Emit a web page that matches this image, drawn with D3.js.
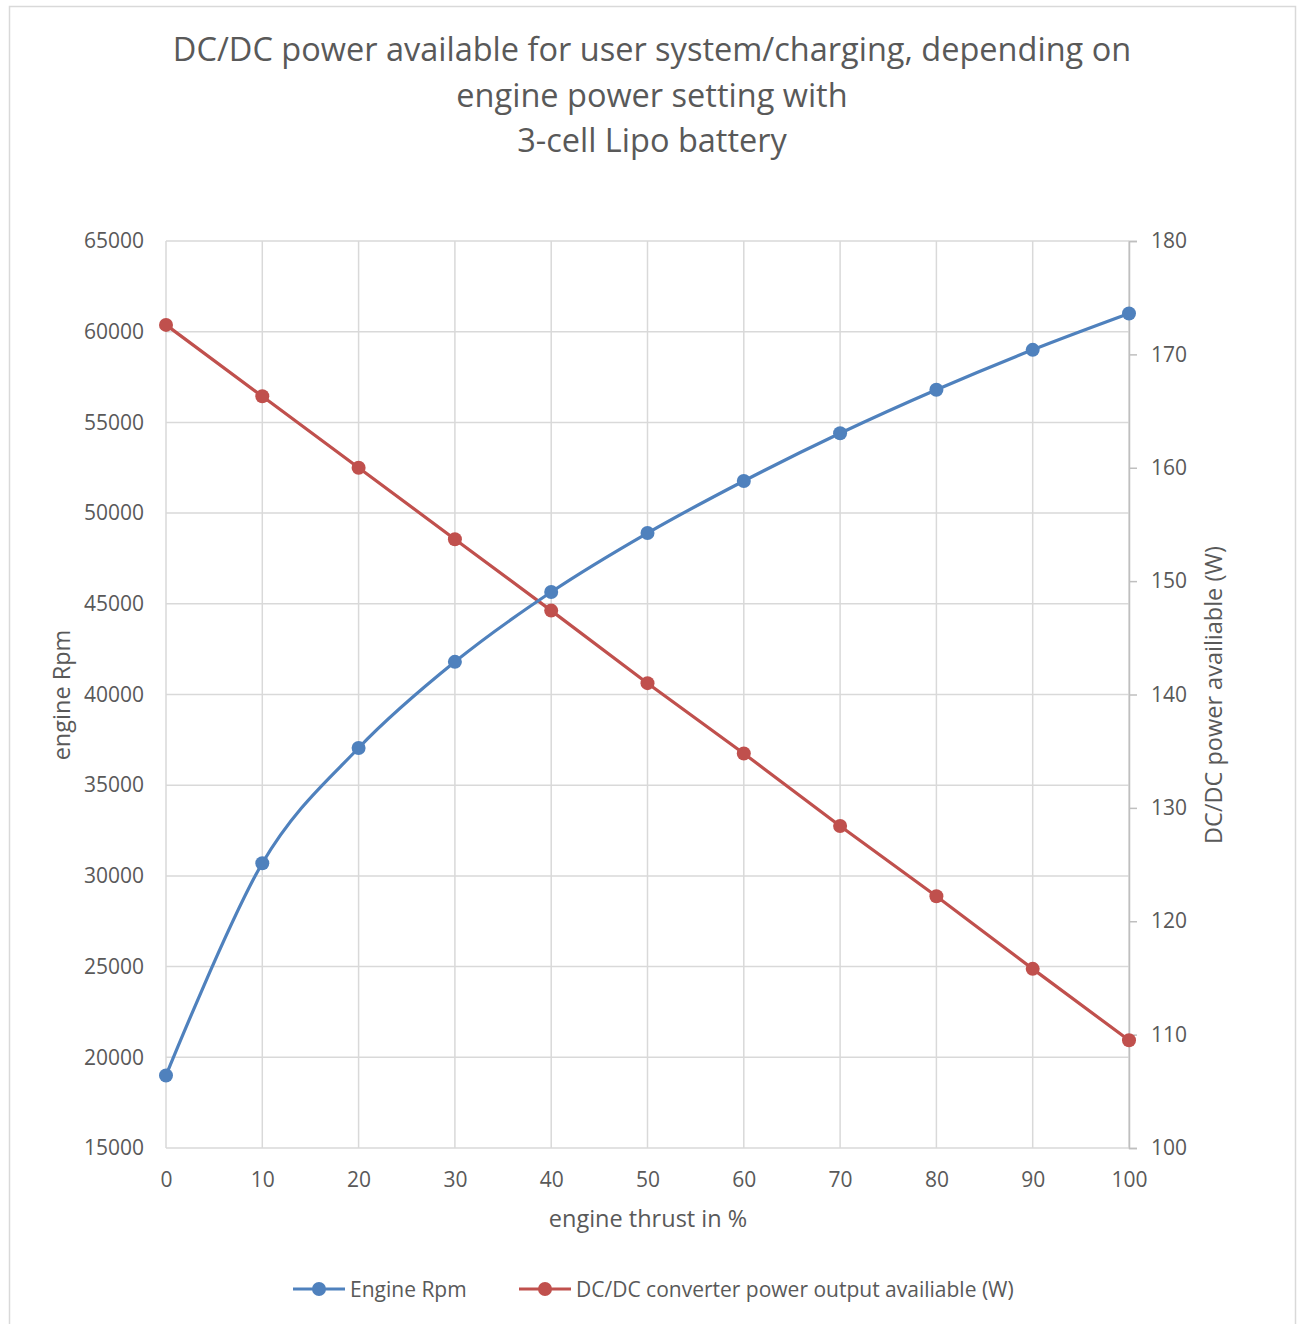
<!DOCTYPE html>
<html>
<head>
<meta charset="utf-8">
<script src="https://cdn.jsdelivr.net/npm/d3@7"></script>
<style>
  html, body { margin: 0; padding: 0; background: #fff; }
  svg { display: block; }
  text { font-family: "Open Sans", "Noto Sans", sans-serif; fill: #595959; }
</style>
</head>
<body>
<svg id="chart" width="1300" height="1324"></svg>
<script>
// Engine thrust setting (%)
const thrust = [0, 10, 20, 30, 40, 50, 60, 70, 80, 90, 100];
// Engine speed (rpm) at each thrust setting
const engineRpm = [19000, 30700, 37050, 41800, 45650, 48900, 51770, 54400, 56800, 59000, 61000];
// DC/DC converter output power available (W)
const dcdcPower = [172.6, 166.3, 160.0, 153.7, 147.4, 141.0, 134.8, 128.4, 122.2, 115.8, 109.5];

const xTicks = [0, 10, 20, 30, 40, 50, 60, 70, 80, 90, 100];
const rpmTicks = [15000, 20000, 25000, 30000, 35000, 40000, 45000, 50000, 55000, 60000, 65000];
const powerTicks = [100, 110, 120, 130, 140, 150, 160, 170, 180];

const titleLines = [
  "DC/DC power available for user system/charging, depending on",
  "engine power setting with",
  "3-cell Lipo battery"
];
const seriesNames = ["Engine Rpm", "DC/DC converter power output availiable (W)"];

const blue = "#4f81bd", red = "#c0504d", grid = "#d9d9d9", axisCol = "#bfbfbf";

const svg = d3.select("#chart");
const plot = { left: 166, right: 1129, top: 241, bottom: 1148 };

// outer chart frame
svg.append("rect")
  .attr("x", 9.5).attr("y", 6.5).attr("width", 1286).attr("height", 1330)
  .attr("fill", "#fff").attr("stroke", grid).attr("stroke-width", 1.5);

const x = d3.scaleLinear().domain([0, 100]).range([plot.left, plot.right]);
const yL = d3.scaleLinear().domain([15000, 65000]).range([plot.bottom, plot.top]);
const yR = d3.scaleLinear().domain([100, 180]).range([plot.bottom, plot.top]);

// gridlines
const g = svg.append("g");
g.selectAll(".hg").data(rpmTicks).join("line")
  .attr("x1", plot.left).attr("x2", plot.right)
  .attr("y1", d => yL(d)).attr("y2", d => yL(d))
  .attr("stroke", grid).attr("stroke-width", 1.5);
g.selectAll(".vg").data(xTicks).join("line")
  .attr("x1", d => x(d)).attr("x2", d => x(d))
  .attr("y1", plot.top).attr("y2", plot.bottom)
  .attr("stroke", grid).attr("stroke-width", 1.5);

const tickFont = 21;

// secondary axis with outward ticks
const rightAxis = d3.axisRight(yR).tickValues(powerTicks).tickSize(8).tickPadding(14);
const ra = svg.append("g").attr("transform", `translate(${plot.right},0)`).call(rightAxis);
ra.select(".domain").attr("stroke", axisCol).attr("stroke-width", 1.5);
ra.selectAll(".tick line").attr("stroke", axisCol).attr("stroke-width", 1.5);
ra.selectAll(".tick text").attr("font-size", tickFont).attr("fill", "#595959")
  .style("font-family", "'Open Sans', sans-serif");

// primary axis (labels only)
const leftAxis = d3.axisLeft(yL).tickValues(rpmTicks).tickSize(0).tickPadding(22).tickFormat(d3.format("d"));
const la = svg.append("g").attr("transform", `translate(${plot.left},0)`).call(leftAxis);
la.select(".domain").remove();
la.selectAll(".tick text").attr("font-size", tickFont).attr("fill", "#595959")
  .style("font-family", "'Open Sans', sans-serif");

// x axis (labels only)
const bottomAxis = d3.axisBottom(x).tickValues(xTicks).tickSize(0).tickPadding(24);
const ba = svg.append("g").attr("transform", `translate(0,${plot.bottom})`).call(bottomAxis);
ba.select(".domain").remove();
ba.selectAll(".tick text").attr("font-size", tickFont).attr("fill", "#595959")
  .style("font-family", "'Open Sans', sans-serif");

// axis titles
svg.append("text").attr("x", 648).attr("y", 1227).attr("text-anchor", "middle")
  .attr("font-size", 23.5).text("engine thrust in %");
svg.append("text").attr("transform", "translate(70,695) rotate(-90)").attr("text-anchor", "middle")
  .attr("font-size", 23.5).text("engine Rpm");
svg.append("text").attr("transform", "translate(1222,695) rotate(-90)").attr("text-anchor", "middle")
  .attr("font-size", 23.5).text("DC/DC power availiable (W)");

// title
svg.append("g").selectAll("text").data(titleLines).join("text")
  .attr("x", 652).attr("y", (d, i) => 61 + i * 45.5)
  .attr("text-anchor", "middle").attr("font-size", 32.5).text(d => d);

// series
const rpmData = thrust.map((t, i) => [t, engineRpm[i]]);
const powData = thrust.map((t, i) => [t, dcdcPower[i]]);

svg.append("path").datum(powData)
  .attr("d", d3.line().x(d => x(d[0])).y(d => yR(d[1])))
  .attr("fill", "none").attr("stroke", red).attr("stroke-width", 3.2).attr("stroke-linejoin", "round");
svg.append("path").datum(rpmData)
  .attr("d", d3.line().curve(d3.curveCatmullRom.alpha(0)).x(d => x(d[0])).y(d => yL(d[1])))
  .attr("fill", "none").attr("stroke", blue).attr("stroke-width", 3.2).attr("stroke-linejoin", "round");

svg.append("g").selectAll("circle").data(powData).join("circle")
  .attr("cx", d => x(d[0])).attr("cy", d => yR(d[1])).attr("r", 7).attr("fill", red);
svg.append("g").selectAll("circle").data(rpmData).join("circle")
  .attr("cx", d => x(d[0])).attr("cy", d => yL(d[1])).attr("r", 7).attr("fill", blue);

// legend
const legend = [
  { name: seriesNames[0], color: blue, x0: 293 },
  { name: seriesNames[1], color: red, x0: 519 }
];
const lg = svg.append("g").selectAll("g").data(legend).join("g")
  .attr("transform", d => `translate(${d.x0},1289)`);
lg.append("line").attr("x1", 0).attr("x2", 52).attr("y1", 0).attr("y2", 0)
  .attr("stroke", d => d.color).attr("stroke-width", 3.2);
lg.append("circle").attr("cx", 26).attr("cy", 0).attr("r", 7).attr("fill", d => d.color);
lg.append("text").attr("x", 57).attr("y", 7.5).attr("font-size", 21).text(d => d.name);
</script>
</body>
</html>
